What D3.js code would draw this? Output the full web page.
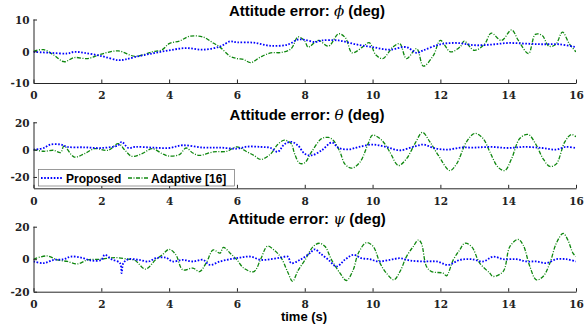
<!DOCTYPE html>
<html>
<head>
<meta charset="utf-8">
<script src="https://cdn.jsdelivr.net/npm/d3@7"></script>
<style>
  body { margin: 0; background: #fff; }
  svg { display: block; }
</style>
</head>
<body>
<div id="chart"></div>
<script>
// time (s), error (deg)
const phiProposed = [[0,-0.2],[0.5,-0.5],[1,-0.7],[1.2,-0.2],[1.5,-0.5],[2,-1.5],[2.5,-2.8],[2.7,-2.6],[3,-1.8],[3.5,-0.7],[4,0.3],[4.5,1.0],[5,0.5],[5.5,1.5],[5.8,3.1],[6,2.8],[6.5,2.7],[7,1.7],[7.5,2.1],[7.8,3.7],[8,3.6],[8.3,2.9],[8.5,3.4],[9,3.4],[9.5,2.2],[10,1.3],[10.5,0.5],[11,1.3],[11.3,-0.5],[11.5,0.3],[12,2.2],[12.5,2.6],[13,1.9],[13.5,2.1],[14,2.6],[14.5,2.4],[15,2.2],[15.5,2.2],[16,1.3]]
const phiAdaptive = [[0,0],[0.3,0.5],[0.6,-1.2],[0.9,-3.3],[1.2,-2],[1.6,-2.3],[2,-0.9],[2.5,0.1],[3,-1.6],[3.5,-0.2],[3.8,0.5],[4,2.4],[4.3,3.2],[4.6,4.7],[5,4.5],[5.3,2.6],[5.5,1.3],[5.8,-1.6],[6,-2.3],[6.2,-2.6],[6.4,-3.6],[6.7,-1.8],[7,-0.5],[7.3,-0.4],[7.6,0.8],[7.8,4.5],[8,3.2],[8.1,1.3],[8.4,3.4],[8.7,1.6],[9,5.5],[9.2,4.2],[9.4,-0.5],[9.7,1.3],[9.9,2.7],[10.1,-1.2],[10.3,-2.3],[10.6,1.3],[10.8,2.4],[11,-2.3],[11.3,0.8],[11.5,-4.7],[11.8,-1.2],[12,3.4],[12.3,-0.2],[12.6,1.6],[12.7,3.2],[13,0.3],[13.3,2.2],[13.5,5.7],[13.8,3.4],[14.1,6.7],[14.3,3.4],[14.6,-0.7],[14.8,5.3],[15,5.0],[15.2,1.6],[15.4,2.1],[15.6,6.0],[15.8,2.4],[16,-0.2]]

const thetaProposed = [[0,0],[0.3,1.2],[0.5,3.7],[0.8,3.7],[1,2],[1.5,1.7],[2,1.2],[2.5,3.2],[2.6,5.7],[2.8,1.2],[3,2],[3.5,1.5],[4,1.2],[4.4,3.2],[5,1.5],[5.5,1.5],[6,0.7],[6.3,2.2],[6.7,2],[7,1.2],[7.2,-1.7],[7.4,4],[7.6,5.7],[7.8,3],[8,-3],[8.2,-4.2],[8.5,-0.5],[8.8,5.2],[9,1.2],[9.3,0.2],[9.6,2],[10,3.7],[10.4,2],[10.8,-0.5],[11.2,2],[11.5,3.7],[11.8,1.2],[12.2,0],[12.6,1.5],[13,1.5],[13.5,2],[14,1.2],[14.5,2],[15,1.2],[15.4,0],[15.7,2],[16,1.2]]
const thetaAdaptive = [[0,0],[0.3,-1.2],[0.6,-0.5],[0.8,-2.2],[0.9,2.7],[1.2,-5.4],[1.5,-3],[1.8,0.7],[2.2,-0.5],[2.5,4.4],[2.7,-0.5],[2.9,-4.9],[3.2,-3],[3.5,0.7],[3.8,-3],[4,-4.7],[4.3,-3.7],[4.5,1.2],[4.7,-2.5],[4.9,-4.2],[5.3,-1.7],[5.7,-1.2],[6,2],[6.3,-1.7],[6.5,-4.2],[6.7,-7.2],[7,-3],[7.2,3.7],[7.4,6.9],[7.6,4.4],[7.7,-3],[7.85,-10],[8,-9.6],[8.2,-1.7],[8.5,8.1],[8.7,8.9],[8.84,6.9],[9.04,-1.7],[9.18,-10.4],[9.38,-13.6],[9.63,-9.1],[9.87,4.4],[10,10.6],[10.27,6.9],[10.51,-1.7],[10.76,-11.6],[11,-6.7],[11.25,4.4],[11.47,12.6],[11.69,5.7],[11.94,-4.2],[12.28,-15.3],[12.48,-10.4],[12.77,5.7],[13.02,11.9],[13.26,8.1],[13.46,-1.7],[13.7,-12.8],[13.9,-15.3],[14.1,-6.7],[14.34,8.1],[14.59,11.1],[14.83,3.2],[15.03,-6.7],[15.23,-12.3],[15.42,-10.4],[15.67,5.7],[15.86,11.1],[16,9.4]]

const psiProposed = [[0,-1.4],[0.3,-2.4],[0.6,-0.4],[0.9,0],[1.1,1.6],[1.4,1],[1.7,-0.8],[2,-0.4],[2.1,2.7],[2.3,0],[2.55,-2.4],[2.6,-8.6],[2.65,-2.4],[2.8,0],[3.1,-0.4],[3.4,-1.4],[3.6,0.6],[3.9,1],[4.1,-1.4],[4.4,-0.4],[4.7,-1.4],[5,-0.4],[5.2,-3.5],[5.5,-1.4],[5.8,0],[6.1,1],[6.4,1.6],[6.7,-0.4],[7,0],[7.3,1],[7.5,1.6],[7.6,-2.4],[7.86,-0.4],[8.15,3.7],[8.3,6.1],[8.45,3.7],[8.7,-0.4],[8.94,-4.5],[9.18,-0.4],[9.43,2.7],[9.67,0.6],[9.92,0],[10.17,-1.4],[10.51,-0.4],[10.81,0.6],[11.1,-0.8],[11.5,-1.4],[11.89,-1.4],[12.23,-3.5],[12.58,-0.4],[12.92,0],[13.26,-1.4],[13.56,1.6],[13.85,0],[14.24,0],[14.54,-1.4],[14.83,-1.4],[15.13,-2.4],[15.42,0],[15.72,0],[16,-1.4]]
const psiAdaptive = [[0,0],[0.4,2],[0.7,-0.4],[1,-1.4],[1.3,-2.9],[1.6,-0.4],[2,0],[2.4,1],[2.8,0],[3,-0.8],[3.3,-6.1],[3.6,-0.4],[3.8,2.7],[4,6.1],[4.2,2.7],[4.4,-6.5],[4.7,-5.5],[4.9,-7.6],[5.1,-2],[5.3,5.7],[5.5,3.7],[5.6,7.3],[5.8,3.7],[6,-0.4],[6.2,-5.5],[6.5,-7.6],[6.7,0],[6.9,8],[7.1,5.5],[7.3,1],[7.5,-8],[7.64,-13.7],[7.8,-7],[8.01,-0.4],[8.25,7.8],[8.43,9.8],[8.6,7.8],[8.79,-0.4],[9.04,-8.6],[9.23,-13.1],[9.43,-6.5],[9.58,3.7],[9.82,10.2],[10.02,7.8],[10.22,-2.4],[10.41,-8.6],[10.63,-12.7],[10.81,-7.6],[11,1.6],[11.2,7.8],[11.35,11.8],[11.44,9.8],[11.59,-4.5],[11.74,-7.6],[12.08,-8.6],[12.18,-10.2],[12.38,-0.4],[12.57,5.7],[12.72,9.8],[12.92,7.8],[13.16,-2.4],[13.46,-8.6],[13.55,-10.6],[13.85,-7.6],[14.05,7.8],[14.29,12.2],[14.44,8.8],[14.64,-4.5],[14.83,-12.7],[15.03,-10.6],[15.23,-2.4],[15.42,9.8],[15.62,15.9],[15.76,11.8],[15.91,3.7],[16,1.6]]

const xTicks = [0, 2, 4, 6, 8, 10, 12, 14, 16]
const seriesNames = ['Proposed', 'Adaptive [16]']

const width = 584
const height = 329
const axisColor = '#262626'
const blue = '#0000ff'
const green = '#0f870f'
const sans = '"Liberation Sans", Arial, sans-serif'

const panels = [
  { sym: 'ϕ', top: 19.5, bottom: 83, domain: [-10, 10], ticks: [-10, 0, 10], titleY: 15.5, data: [phiProposed, phiAdaptive] },
  { sym: 'θ', top: 122.3, bottom: 188.3, domain: [-28.3, 20], ticks: [-20, 0, 20], titleY: 119.5, data: [thetaProposed, thetaAdaptive] },
  { sym: 'ψ', top: 226.7, bottom: 291.7, domain: [-20, 20], ticks: [-20, 0, 20], titleY: 223.5, data: [psiProposed, psiAdaptive] }
]

const svg = d3.select('#chart')
  .append('svg')
  .attr('width', width)
  .attr('height', height)

const x = d3.scaleLinear().domain([0, 16]).range([33.5, 576])

panels.forEach(function (p, i) {
  const y = d3.scaleLinear().domain(p.domain).range([p.bottom, p.top])
  const g = svg.append('g')

  g.append('clipPath')
    .attr('id', 'clip' + i)
    .append('rect')
    .attr('x', x.range()[0])
    .attr('y', p.top)
    .attr('width', x.range()[1] - x.range()[0])
    .attr('height', p.bottom - p.top)

  const line = d3.line()
    .x(d => x(d[0]))
    .y(d => y(d[1]))
    .curve(d3.curveCatmullRom.alpha(0.5))

  const lines = g.append('g').attr('clip-path', 'url(#clip' + i + ')')

  lines.append('path')
    .datum(p.data[1])
    .attr('d', line)
    .attr('fill', 'none')
    .attr('stroke', green)
    .attr('stroke-width', 1.3)
    .attr('stroke-dasharray', '4,1.5,1,1.5')

  lines.append('path')
    .datum(p.data[0])
    .attr('d', line)
    .attr('fill', 'none')
    .attr('stroke', blue)
    .attr('stroke-width', 1.8)
    .attr('stroke-dasharray', '1.6,1.6')

  // axes, ticks pointing inward
  const xAxis = g.append('g')
    .attr('transform', 'translate(0,' + p.bottom + ')')
    .call(d3.axisBottom(x).tickValues(xTicks).tickSizeInner(-3.5).tickSizeOuter(0).tickPadding(7))
  const yAxis = g.append('g')
    .attr('transform', 'translate(' + x.range()[0] + ',0)')
    .call(d3.axisLeft(y).tickValues(p.ticks).tickSizeInner(-3.5).tickSizeOuter(0).tickPadding(4).tickFormat(d => d))

  yAxis.select('.domain').attr('d', 'M0.5,' + p.top + 'V' + p.bottom)

  ;[xAxis, yAxis].forEach(function (a) {
    a.selectAll('.domain, line').attr('stroke', axisColor).attr('stroke-width', 1)
    a.selectAll('text')
      .attr('fill', '#222')
      .style('font-family', '"DejaVu Serif", serif')
      .style('font-weight', 'bold')
      .style('font-size', '10.5px')
  })
  xAxis.selectAll('text').attr('dy', '0.9em')
  yAxis.selectAll('text').attr('dy', '0.36em').text(d => d < 0 ? '-' + Math.abs(d) : d)

  const title = g.append('text')
    .attr('x', 307)
    .attr('y', p.titleY)
    .attr('text-anchor', 'middle')
    .style('font-family', sans)
    .style('font-weight', 'bold')
    .style('font-size', '15px')
  title.append('tspan').text('Attitude error: ')
  title.append('tspan')
    .style('font-family', '"DejaVu Serif", serif')
    .style('font-style', 'italic')
    .style('font-weight', 'normal')
    .text(p.sym)
  title.append('tspan').text(' (deg)')

  if (i === 1) {
    const leg = g.append('g')
    leg.append('rect')
      .attr('x', 38.5)
      .attr('y', 169.5)
      .attr('width', 196)
      .attr('height', 16.5)
      .attr('fill', '#fff')
      .attr('stroke', '#555')
      .attr('stroke-width', 0.6)
    const items = [
      { x0: 41, x1: 63, tx: 66, color: blue, width: 1.8, dash: '1.6,1.6' },
      { x0: 128, x1: 148, tx: 151, color: green, width: 1.3, dash: '4,1.5,1,1.5' }
    ]
    items.forEach(function (it, k) {
      leg.append('line')
        .attr('x1', it.x0).attr('x2', it.x1)
        .attr('y1', 178).attr('y2', 178)
        .attr('stroke', it.color)
        .attr('stroke-width', it.width)
        .attr('stroke-dasharray', it.dash)
      leg.append('text')
        .attr('x', it.tx)
        .attr('y', 182.5)
        .style('font-family', sans)
        .style('font-weight', 'bold')
        .style('font-size', '12px')
        .text(seriesNames[k])
    })
  }
})

svg.append('text')
  .attr('x', 304)
  .attr('y', 321)
  .attr('text-anchor', 'middle')
  .style('font-family', sans)
  .style('font-weight', 'bold')
  .style('font-size', '13px')
  .text('time (s)')
</script>
</body>
</html>
